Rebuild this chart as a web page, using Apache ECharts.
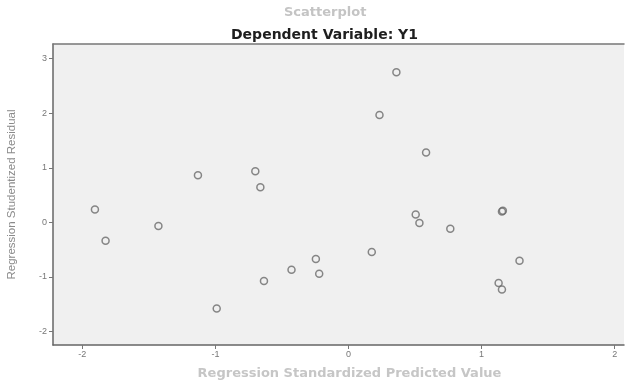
<!DOCTYPE html>
<html>
<head>
<meta charset="utf-8">
<script src="https://cdn.jsdelivr.net/npm/echarts@6/dist/echarts.min.js"></script>
<style>
  html, body { margin: 0; padding: 0; background: #fff; }
  #chart { width: 628px; height: 383px; }
</style>
</head>
<body>
<div id="chart"></div>
<script>
// predicted value (x) and studentized residual (y)
let predicted = [-1.905, -1.825, -1.428, -1.131, -0.700, -0.662, -0.635, -0.990, -0.428, -0.245, -0.220,
  0.175, 0.233, 0.360, 0.583, 0.505, 0.533, 0.765, 1.153, 1.160, 1.285, 1.128, 1.153]
let residual = [0.233, -0.336, -0.066, 0.864, 0.938, 0.643, -1.077, -1.581, -0.869, -0.673, -0.943,
  -0.544, 1.967, 2.752, 1.281, 0.142, -0.011, -0.116, 0.197, 0.210, -0.704, -1.114, -1.232]
let xTicks = [-2, -1, 0, 1, 2]
let yTicks = [-2, -1, 0, 1, 2, 3]

let points = predicted.map((x, i) => [x, residual[i]])
let font = 'Liberation Sans, Arial, sans-serif'
let wideFont = 'DejaVu Sans, Verdana, sans-serif'

let chartsInstance = echarts.init(document.getElementById('chart'))
let option = {
  backgroundColor: '#fff',
  animation: false,
  title: [
    {
      text: 'Scatterplot',
      left: 279,
      top: 1,
      textStyle: { fontSize: 13, fontWeight: 'bold', color: '#c4c4c4', fontFamily: wideFont }
    },
    {
      text: 'Dependent Variable: Y1',
      left: 226,
      top: 23,
      textStyle: { fontSize: 14, fontWeight: 'bold', color: '#1e1e1e', fontFamily: wideFont }
    }
  ],
  grid: {
    left: 53,
    right: 4,
    top: 44,
    bottom: 38,
    outerBoundsMode: 'none',
    show: true,
    backgroundColor: '#f0f0f0',
    borderWidth: 0
  },
  xAxis: [
    {
      type: 'value',
      min: -2.22,
      max: 2.07,
      name: 'Regression Standardized Predicted Value',
      nameLocation: 'middle',
      nameGap: 22,
      nameTextStyle: { fontSize: 13, fontWeight: 'bold', color: '#c6c6c6', fontFamily: wideFont, padding: [0, 0, 0, 22] },
      splitLine: { show: false },
      axisLine: { onZero: false, lineStyle: { color: '#666', width: 1.5 } },
      axisTick: { show: true, customValues: xTicks, length: 4, lineStyle: { color: '#777' } },
      axisLabel: { customValues: xTicks, fontSize: 9, color: '#777', margin: 5, fontFamily: font }
    },
    {
      type: 'value',
      position: 'top',
      min: -2.22,
      max: 2.07,
      splitLine: { show: false },
      axisLine: { onZero: false, lineStyle: { color: '#777', width: 1.5 } },
      axisTick: { show: false },
      axisLabel: { show: false }
    }
  ],
  yAxis: {
    type: 'value',
    min: -2.25,
    max: 3.27,
    name: 'Regression Studentized Residual',
    nameLocation: 'middle',
    nameGap: 35,
    nameTextStyle: { fontSize: 11.5, color: '#8a8a8a', fontFamily: font },
    splitLine: { show: false },
    axisLine: { show: true, onZero: false, lineStyle: { color: '#666', width: 1.5 } },
    axisTick: { show: true, customValues: yTicks, length: 4, lineStyle: { color: '#777' } },
    axisLabel: { customValues: yTicks, fontSize: 9, color: '#777', margin: 6, fontFamily: font }
  },
  series: [
    {
      type: 'scatter',
      data: points,
      symbol: 'circle',
      symbolSize: 7,
      itemStyle: { color: 'rgba(0,0,0,0)', borderColor: '#6a6a6a', borderWidth: 1.5 }
    }
  ]
}
chartsInstance.setOption(option)
</script>
</body>
</html>
